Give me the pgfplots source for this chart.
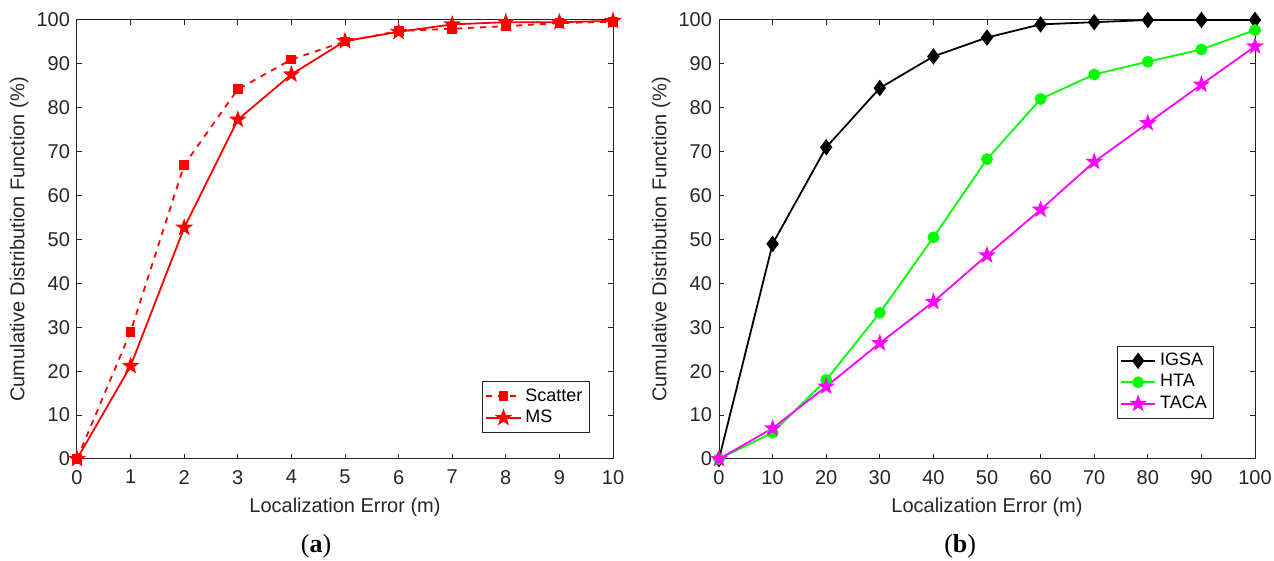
\documentclass[border=0pt]{standalone}
\usepackage{fontspec}
\setmainfont{Liberation Sans}
\newfontfamily\capfont{Liberation Serif}
\usepackage{pgfplots}
\pgfplotsset{compat=1.18}
\usetikzlibrary{plotmarks}
\pgfdeclareplotmark{pentastar}{%
  \pgfpathmoveto{\pgfpointpolar{90}{\pgfplotmarksize}}%
  \pgfpathlineto{\pgfpointpolar{126}{0.40\pgfplotmarksize}}%
  \pgfpathlineto{\pgfpointpolar{162}{\pgfplotmarksize}}%
  \pgfpathlineto{\pgfpointpolar{198}{0.40\pgfplotmarksize}}%
  \pgfpathlineto{\pgfpointpolar{234}{\pgfplotmarksize}}%
  \pgfpathlineto{\pgfpointpolar{270}{0.40\pgfplotmarksize}}%
  \pgfpathlineto{\pgfpointpolar{306}{\pgfplotmarksize}}%
  \pgfpathlineto{\pgfpointpolar{342}{0.40\pgfplotmarksize}}%
  \pgfpathlineto{\pgfpointpolar{18}{\pgfplotmarksize}}%
  \pgfpathlineto{\pgfpointpolar{54}{0.40\pgfplotmarksize}}%
  \pgfpathclose
  \pgfusepathqfillstroke
}
\definecolor{axgray}{gray}{0.15}
\definecolor{mgreen}{rgb}{0,1,0}
\definecolor{mmag}{rgb}{1,0,1}
\pgfplotsset{
  myaxis/.style={
    scale only axis,
    height=219.5pt,
    ymin=0, ymax=100,
    ytick={0,10,...,100},
    tick align=inside,
    major tick length=2.5pt,
    axis line style={axgray, line width=0.5pt},
    every tick/.style={axgray, line width=0.5pt},
    tick label style={font=\fontsize{10}{12}\selectfont, text=axgray},
    /pgf/number format/assume math mode=true,
    label style={font=\fontsize{10}{12}\selectfont, text=axgray},
    ylabel={Cumulative Distribution Function (\%)},
    xlabel={Localization Error (m)},
    ylabel style={at={(axis description cs:-0.108,0.5)}, anchor=center, rotate=0},
    xlabel style={at={(axis description cs:0.5,-0.111)}, anchor=center},
    xticklabel style={yshift=-2pt},
    clip=false,
    legend cell align=left,
    legend style={font=\fontsize{9}{10.5}\selectfont, draw=axgray, fill=white,
      line width=0.5pt, inner sep=1.5pt, row sep=-1pt},
  },
}
\begin{document}
\begin{tikzpicture}
\begin{axis}[myaxis, at={(1pt,0)}, anchor=origin,
  width=268pt, xmin=0, xmax=10, xtick={0,1,...,10},
  legend style={at={(axis description cs:0.957,0.059)}, anchor=south east}]
\addplot[red, line width=0.9pt, dashed, mark=square*, mark size=2pt, mark options={solid}]
  coordinates {(0,0) (1,29) (2,67) (3,84.2) (4,91) (5,95.1) (6,97.5) (7,98) (8,98.6) (9,99.3) (10,99.6)};
\addlegendentry{Scatter}
\addplot[red, line width=0.9pt, mark=pentastar, mark size=3.3pt]
  coordinates {(0,0) (1,21.2) (2,52.7) (3,77.3) (4,87.6) (5,95.2) (6,97.3) (7,99) (8,99.5) (9,99.5) (10,99.8)};
\addlegendentry{MS}
\node[font=\capfont\fontsize{13}{15}\selectfont, text=black] at (axis description cs:0.446,-0.198) {(\textbf{a})};
\end{axis}
\begin{axis}[myaxis, at={(322pt,0)}, anchor=origin,
  width=268pt, xmin=0, xmax=100, xtick={0,10,...,100},
  legend style={at={(axis description cs:0.924,0.091)}, anchor=south east}]
\addplot[black, line width=0.9pt, mark=diamond*, mark size=3.4pt]
  coordinates {(0,0) (10,49) (20,71) (30,84.5) (40,91.7) (50,96) (60,99) (70,99.5) (80,100) (90,100) (100,100)};
\addlegendentry{IGSA}
\addplot[mgreen, line width=0.9pt, mark=*, mark size=2.5pt]
  coordinates {(0,0) (10,6) (20,18) (30,33.3) (40,50.5) (50,68.3) (60,82) (70,87.6) (80,90.5) (90,93.3) (100,97.7)};
\addlegendentry{HTA}
\addplot[mmag, line width=0.9pt, mark=pentastar, mark size=3.3pt]
  coordinates {(0,0) (10,7) (20,16.5) (30,26.4) (40,35.8) (50,46.4) (60,56.8) (70,67.7) (80,76.5) (90,85.3) (100,94)};
\addlegendentry{TACA}
\node[font=\capfont\fontsize{13}{15}\selectfont, text=black] at (axis description cs:0.45,-0.198) {(\textbf{b})};
\end{axis}
\pgfresetboundingbox
\path (-37.5pt,-51pt) rectangle (599.5pt,229.5pt);
\end{tikzpicture}
\end{document}
